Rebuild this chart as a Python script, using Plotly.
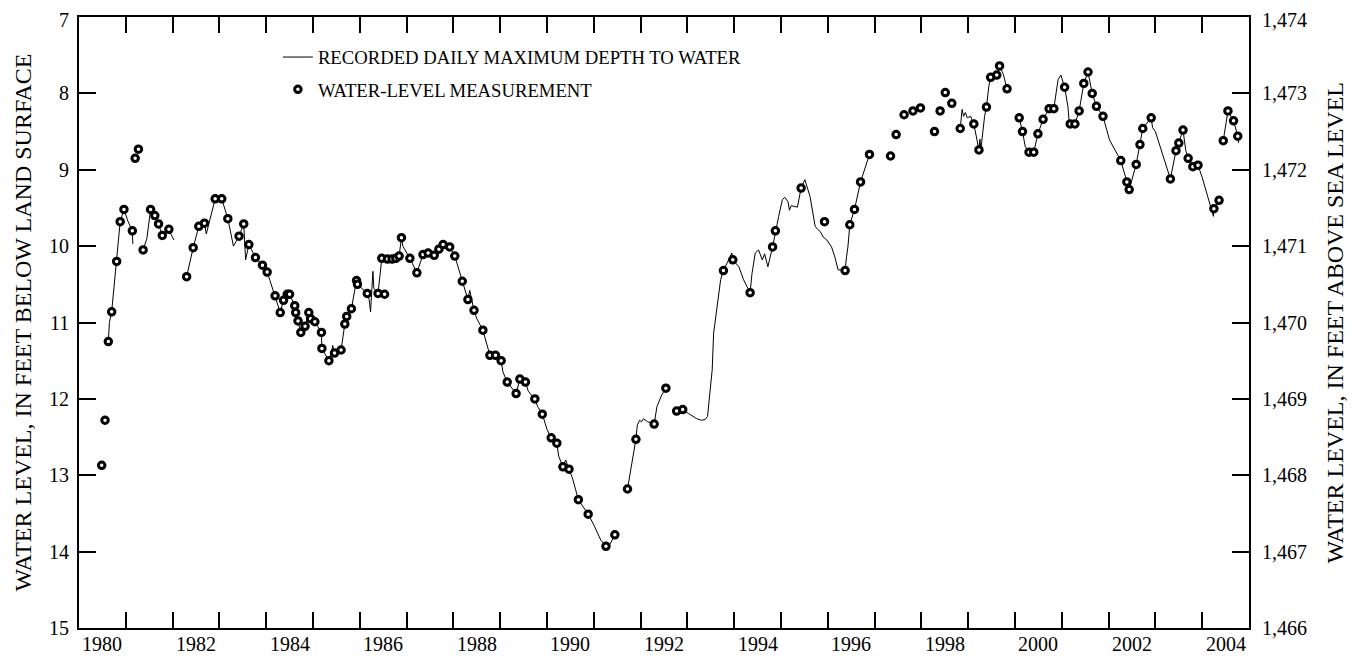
import plotly.graph_objects as go

# ---- measurement data (year, depth to water in feet below land surface) ----
meas_year = [1980.485, 1980.556, 1980.627, 1980.698, 1980.805, 1980.88, 1980.96, 1981.14, 1981.20, 1981.27,
             1981.37, 1981.53, 1981.62, 1981.70, 1981.78, 1981.92, 1982.30, 1982.44, 1982.56, 1982.68,
             1982.91, 1983.05, 1983.18, 1983.42, 1983.52, 1983.63, 1983.77, 1983.92, 1984.02, 1984.19,
             1984.30, 1984.37, 1984.45, 1984.50, 1984.61, 1984.63, 1984.68, 1984.74, 1984.83, 1984.91,
             1984.95, 1985.04, 1985.18, 1985.19, 1985.34, 1985.46, 1985.60, 1985.68, 1985.72, 1985.82,
             1985.93, 1985.95, 1986.16, 1986.39, 1986.53, 1986.47, 1986.59, 1986.69, 1986.77, 1986.84,
             1986.89, 1987.07, 1987.22, 1987.35, 1987.46, 1987.59, 1987.69, 1987.78, 1987.92, 1988.03,
             1988.19, 1988.31, 1988.44, 1988.63, 1988.78, 1988.90, 1989.02, 1989.15, 1989.34, 1989.42,
             1989.54, 1989.74, 1989.90, 1990.09, 1990.21, 1990.34, 1990.47, 1990.67, 1990.88, 1991.26,
             1991.45, 1991.72, 1991.90, 1992.29, 1992.54, 1992.77, 1992.90, 1993.77, 1993.97, 1994.34,
             1994.82, 1994.88, 1995.43, 1995.93, 1996.37, 1996.47, 1996.57, 1996.70, 1996.89, 1997.34,
             1997.46, 1997.63, 1997.82, 1997.98, 1998.28, 1998.40, 1998.51, 1998.65, 1998.83, 1999.12,
             1999.23, 1999.39, 1999.48, 1999.61, 1999.67, 1999.83, 2000.09, 2000.16, 2000.30, 2000.40,
             2000.49, 2000.60, 2000.73, 2000.83, 2001.06, 2001.18, 2001.28, 2001.37, 2001.47, 2001.56,
             2001.65, 2001.74, 2001.88, 2002.26, 2002.39, 2002.44, 2002.59, 2002.67, 2002.73, 2002.91,
             2003.32, 2003.44, 2003.50, 2003.59, 2003.70, 2003.80, 2003.91, 2004.25, 2004.36, 2004.45,
             2004.55, 2004.67, 2004.76]
meas_depth = [12.87, 12.28, 11.25, 10.86, 10.20, 9.68, 9.52, 9.80, 8.85, 8.73,
              10.05, 9.52, 9.60, 9.71, 9.86, 9.78, 10.40, 10.02, 9.74, 9.70,
              9.38, 9.38, 9.64, 9.87, 9.71, 9.98, 10.15, 10.25, 10.34, 10.65,
              10.87, 10.71, 10.63, 10.63, 10.78, 10.87, 10.98, 11.13, 11.05, 10.87,
              10.95, 10.99, 11.13, 11.34, 11.50, 11.40, 11.36, 11.02, 10.92, 10.82,
              10.45, 10.50, 10.62, 10.62, 10.63, 10.16, 10.17, 10.17, 10.16, 10.13,
              9.89, 10.16, 10.35, 10.11, 10.09, 10.12, 10.04, 9.98, 10.01, 10.13,
              10.46, 10.70, 10.84, 11.10, 11.43, 11.43, 11.50, 11.78, 11.93, 11.74,
              11.78, 12.00, 12.20, 12.51, 12.58, 12.89, 12.92, 13.32, 13.51, 13.93,
              13.78, 13.18, 12.53, 12.33, 11.86, 12.16, 12.14, 10.32, 10.18, 10.61,
              10.01, 9.80, 9.24, 9.68, 10.32, 9.72, 9.52, 9.16, 8.80, 8.82,
              8.54, 8.28, 8.23, 8.19, 8.50, 8.23, 7.99, 8.13, 8.46, 8.40,
              8.74, 8.18, 7.79, 7.76, 7.64, 7.94, 8.32, 8.50, 8.77, 8.77,
              8.53, 8.34, 8.20, 8.20, 7.92, 8.40, 8.40, 8.23, 7.87, 7.72,
              8.00, 8.17, 8.30, 8.88, 9.16, 9.26, 8.93, 8.67, 8.46, 8.32,
              9.12, 8.75, 8.65, 8.48, 8.85, 8.96, 8.94, 9.51, 9.40, 8.62,
              8.23, 8.36, 8.56]

# ---- recorded daily maximum depth to water (None = gap in record) ----
rec_year = [1980.627, 1980.65, 1980.698, 1980.805, 1980.88, 1980.96, 1981.0, 1981.05, 1981.14, 1981.15, None,
            1981.37, 1981.45, 1981.53, 1981.62, 1981.70, 1981.78, 1981.85, 1981.92, 1981.97, 1982.03, None,
            1982.30, 1982.44, 1982.56, 1982.68, 1982.72, 1982.78, 1982.91, 1983.05, 1983.18, 1983.30, 1983.42,
            1983.52, 1983.56, 1983.63, 1983.77, 1983.92, 1984.02, 1984.08, 1984.19, 1984.30, 1984.37, 1984.45,
            1984.50, 1984.61, 1984.63, 1984.68, 1984.74, 1984.83, 1984.91, 1984.95, 1985.04, 1985.18, 1985.19,
            1985.34, 1985.40, 1985.42, 1985.46, 1985.60, 1985.68, 1985.72, 1985.82, 1985.93, 1985.95, 1986.16,
            1986.20, 1986.23, 1986.28, 1986.30, 1986.39, 1986.47, 1986.59, 1986.69, 1986.77, 1986.84, 1986.89,
            1986.92, 1987.07, 1987.22, 1987.35, 1987.46, 1987.59, 1987.69, 1987.78, 1987.85, 1987.92, 1988.03,
            1988.19, 1988.31, 1988.35, 1988.44, 1988.50, 1988.63, 1988.78, 1988.90, 1989.02, 1989.06, 1989.15,
            1989.34, 1989.42, 1989.54, 1989.60, 1989.74, 1989.80, 1989.90, 1990.00, 1990.09, 1990.21, 1990.25,
            1990.34, 1990.40, 1990.47, 1990.55, 1990.67, 1990.88, 1991.00, 1991.15, 1991.26, 1991.28, 1991.45, None,
            1991.72, 1991.90, 1991.93, 1991.98, 1992.02, 1992.06, 1992.15, 1992.29, 1992.35, 1992.45, 1992.54, None,
            1992.77, 1992.90, 1993.02, 1993.20, 1993.30, 1993.38, 1993.43, 1993.48, 1993.53, 1993.56, 1993.60,
            1993.66, 1993.71, 1993.77, 1993.90, 1993.95, 1993.97, 1994.10, 1994.20, 1994.34, 1994.38, 1994.45,
            1994.52, 1994.60, 1994.65, 1994.72, 1994.82, 1994.88, 1994.95, 1995.03, 1995.08, 1995.15, 1995.18,
            1995.22, 1995.35, 1995.43, 1995.51, 1995.62, 1995.73, 1995.78, 1995.84, 1995.90, 1995.98, 1996.08,
            1996.15, 1996.22, 1996.37, 1996.40, 1996.43, 1996.47, 1996.57, 1996.70, 1996.89, None,
            1998.83, 1998.87, 1998.90, 1998.94, 1998.98, 1999.05, 1999.12, 1999.18, 1999.23, 1999.25, 1999.27,
            1999.35, 1999.39, 1999.44, 1999.48, 1999.61, 1999.67, 1999.75, 1999.83, None,
            2000.09, 2000.16, 2000.22, 2000.30, 2000.40, 2000.45, 2000.49, 2000.60, 2000.73, 2000.83, 2000.92,
            2000.98, 2001.06, 2001.13, 2001.16, 2001.18, 2001.22, 2001.28, 2001.37, 2001.47, 2001.56, 2001.65,
            2001.74, 2001.88, 2002.02, 2002.26, 2002.39, 2002.44, 2002.59, 2002.67, 2002.73, 2002.91, 2002.94,
            2003.00, 2003.15, 2003.32, 2003.44, 2003.50, 2003.59, 2003.65, 2003.70, 2003.80, 2003.91, 2004.00,
            2004.10, 2004.24, 2004.25, 2004.36, None,
            2004.45, 2004.55, 2004.67, 2004.76, 2004.78]
rec_depth = [11.25, 11.00, 10.86, 10.20, 9.68, 9.52, 9.60, 9.68, 9.80, 9.97, None,
             10.05, 9.90, 9.52, 9.60, 9.71, 9.86, 9.83, 9.78, 9.85, 9.92, None,
             10.40, 10.02, 9.74, 9.70, 9.84, 9.70, 9.38, 9.38, 9.64, 10.00, 9.87,
             9.71, 10.18, 9.98, 10.15, 10.25, 10.34, 10.45, 10.65, 10.87, 10.71, 10.63,
             10.63, 10.78, 10.87, 10.98, 11.13, 11.05, 10.87, 10.95, 10.99, 11.13, 11.34,
             11.50, 11.38, 11.30, 11.40, 11.36, 11.02, 10.92, 10.82, 10.45, 10.50, 10.62,
             10.70, 10.86, 10.33, 10.55, 10.62, 10.16, 10.17, 10.17, 10.16, 10.13, 9.89,
             10.00, 10.16, 10.35, 10.11, 10.09, 10.12, 10.04, 9.98, 9.95, 10.01, 10.13,
             10.46, 10.70, 10.58, 10.84, 10.95, 11.10, 11.43, 11.43, 11.50, 11.65, 11.78,
             11.93, 11.74, 11.78, 11.90, 12.00, 12.10, 12.20, 12.40, 12.51, 12.58, 12.75,
             12.89, 12.80, 12.92, 13.05, 13.32, 13.51, 13.65, 13.85, 13.93, 13.98, 13.78, None,
             13.18, 12.53, 12.34, 12.28, 12.30, 12.26, 12.30, 12.33, 12.10, 11.95, 11.86, None,
             12.16, 12.14, 12.19, 12.26, 12.28, 12.27, 12.23, 11.93, 11.62, 11.14, 10.97,
             10.70, 10.44, 10.32, 10.15, 10.09, 10.18, 10.27, 10.44, 10.61, 10.36, 10.09,
             10.05, 10.18, 10.10, 10.27, 10.01, 9.80, 9.61, 9.39, 9.36, 9.42, 9.53,
             9.47, 9.49, 9.24, 9.13, 9.35, 9.74, 9.78, 9.81, 9.88, 9.92, 10.01,
             10.14, 10.31, 10.32, 10.14, 10.01, 9.72, 9.52, 9.16, 8.80, None,
             8.46, 8.21, 8.30, 8.25, 8.32, 8.30, 8.40, 8.61, 8.74, 8.60, 8.74,
             8.30, 8.18, 7.91, 7.79, 7.76, 7.64, 7.75, 7.94, None,
             8.32, 8.50, 8.70, 8.77, 8.77, 8.65, 8.53, 8.34, 8.20, 8.20, 7.82,
             7.76, 7.92, 8.17, 8.39, 8.40, 8.45, 8.40, 8.23, 7.87, 7.72, 8.00,
             8.17, 8.30, 8.61, 8.88, 9.16, 9.26, 8.93, 8.67, 8.46, 8.32, 8.45,
             8.50, 8.80, 9.12, 8.75, 8.65, 8.48, 8.75, 8.85, 8.96, 8.94, 9.10,
             9.30, 9.61, 9.51, 9.40, None,
             8.62, 8.23, 8.36, 8.56, 8.65]

# ---- axes ----
X_RANGE = [1980, 2005]
Y_RANGE = [15, 7]
year_ticks = list(range(1981, 2005))
label_years = list(range(1980, 2005, 2))
depth_ticks = list(range(7, 16))
elev_ticks = list(range(1466, 1475))
LAND_SURFACE = 1481  # elevation of land surface, ft above sea level

FONT = "Liberation Serif, Times New Roman, serif"
TICKFONT = dict(family=FONT, size=20, color="black")
TITLEFONT = dict(family=FONT, size=24, color="black")

fig = go.Figure()
fig.add_trace(go.Scatter(
    x=rec_year, y=rec_depth, mode="lines", connectgaps=False,
    line=dict(color="black", width=1),
    name="RECORDED DAILY MAXIMUM DEPTH TO WATER", legendgroup="a"))
fig.add_trace(go.Scatter(
    x=meas_year, y=meas_depth, mode="markers",
    marker=dict(symbol="circle", size=6.5, color="white", line=dict(color="black", width=3)),
    name="WATER-LEVEL MEASUREMENT", legendgroup="b"))

annotations = []
# year labels centred in each labelled year
for yr in label_years:
    annotations.append(dict(x=yr + 0.5, y=0, xref="x", yref="paper", text=str(yr),
                            showarrow=False, xanchor="center", yanchor="top", yshift=-3,
                            font=TICKFONT))
# left-hand depth scale
for d in depth_ticks:
    annotations.append(dict(x=0, y=d, xref="paper", yref="y", text=str(d),
                            showarrow=False, xanchor="right", yanchor="middle",
                            xshift=-8, yshift=-3 if d == depth_ticks[0] else 0, font=TICKFONT))
# right-hand elevation scale
for el in elev_ticks:
    annotations.append(dict(x=1, y=LAND_SURFACE - el, xref="paper", yref="y",
                            text=f"{el:,d}", showarrow=False, xanchor="left", yanchor="middle",
                            xshift=11, yshift=-3 if el == elev_ticks[-1] else 0, font=TICKFONT))
annotations.append(dict(x=0, y=0.5, xref="paper", yref="paper",
                        text="WATER LEVEL, IN FEET BELOW LAND SURFACE", textangle=-90,
                        showarrow=False, xanchor="center", yanchor="middle", xshift=-57,
                        font=TITLEFONT))
annotations.append(dict(x=1, y=0.5, xref="paper", yref="paper",
                        text="WATER LEVEL, IN FEET ABOVE SEA LEVEL", textangle=-90,
                        showarrow=False, xanchor="center", yanchor="middle", xshift=85,
                        font=TITLEFONT))

fig.update_layout(
    width=1350, height=646,
    margin=dict(l=71, r=109, t=9, b=26, autoexpand=False),
    paper_bgcolor="white", plot_bgcolor="white",
    font=dict(family=FONT, color="black"),
    xaxis=dict(range=X_RANGE, showticklabels=False,
               tickmode="array", tickvals=year_ticks,
               ticks="inside", ticklen=16, tickwidth=2, tickcolor="black",
               showline=True, linewidth=2, linecolor="black", mirror="ticks",
               showgrid=False, zeroline=False, automargin=False),
    yaxis=dict(range=Y_RANGE, showticklabels=False,
               tickmode="array", tickvals=depth_ticks,
               ticks="inside", ticklen=17, tickwidth=2, tickcolor="black",
               showline=True, linewidth=2, linecolor="black", mirror="ticks",
               showgrid=False, zeroline=False, automargin=False),
    annotations=annotations,
    legend=dict(x=0.170, y=0.965, xanchor="left", yanchor="top",
                font=dict(family=FONT, size=18.7, color="black"),
                bgcolor="rgba(0,0,0,0)", tracegroupgap=5, traceorder="grouped"),
    showlegend=True,
)

fig.write_html("out.html")
